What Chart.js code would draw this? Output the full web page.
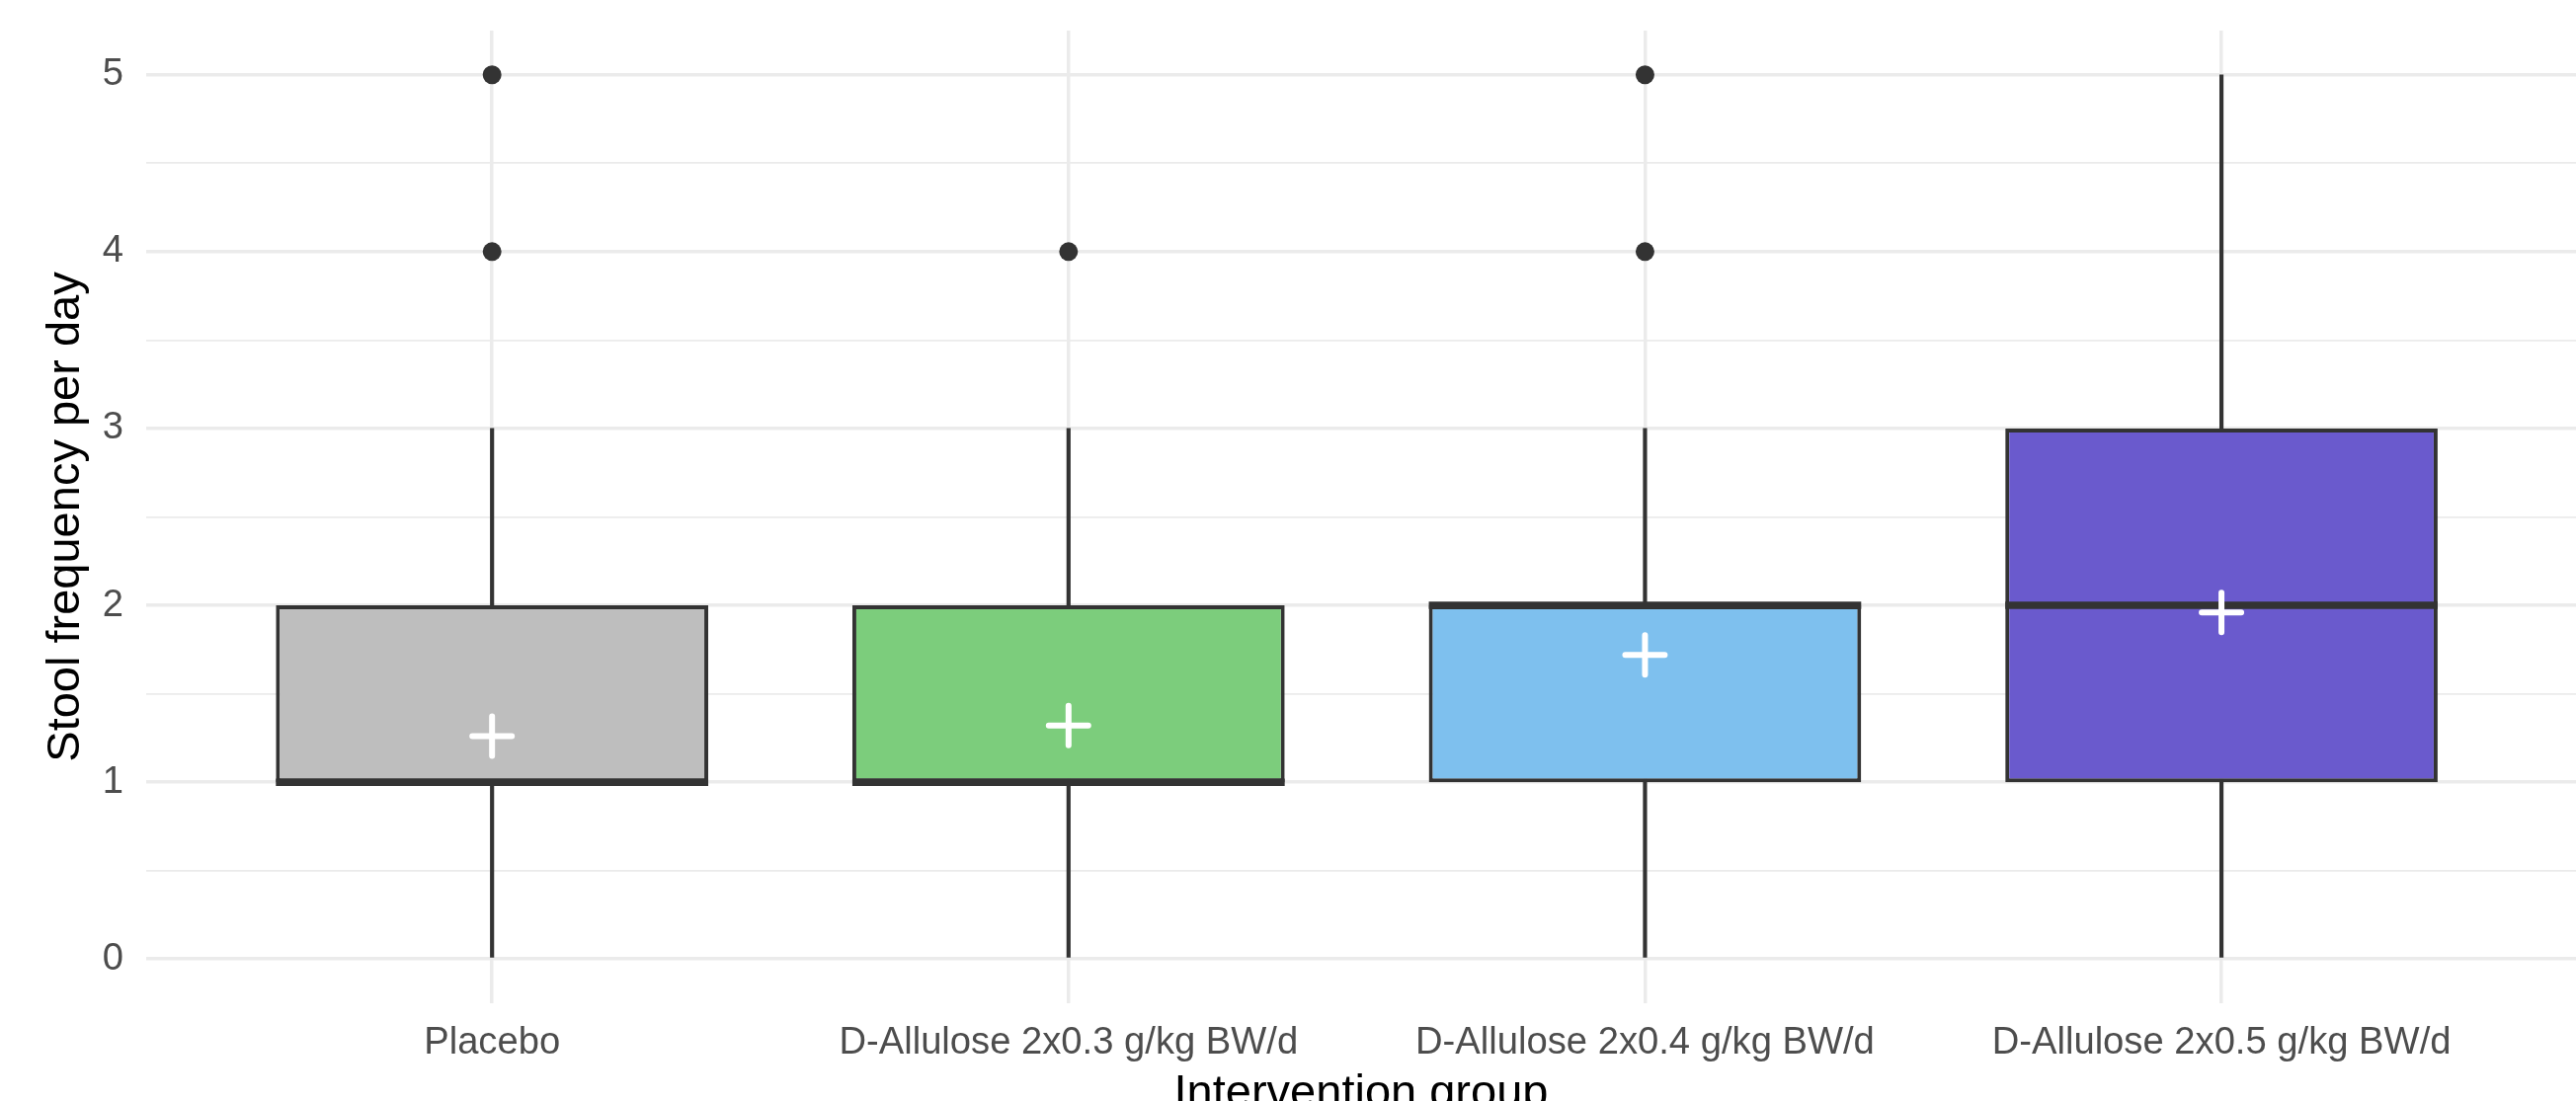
<!DOCTYPE html>
<html>
<head>
<meta charset="utf-8">
<title>Stool frequency per day</title>
<script src="https://cdn.jsdelivr.net/npm/chart.js@4.4.1/dist/chart.umd.min.js"></script>
<style>
  html, body { margin: 0; padding: 0; background: #ffffff; overflow: hidden; }
  #wrap { width: 2608px; height: 1140px; }
</style>
</head>
<body>
<div id="wrap"><canvas id="boxChart" width="2608" height="1140"></canvas></div>
<script>
// Groups on the x axis
const GROUPS = [
  "Placebo",
  "D-Allulose 2x0.3 g/kg BW/d",
  "D-Allulose 2x0.4 g/kg BW/d",
  "D-Allulose 2x0.5 g/kg BW/d",
];

// Box plot summary per group
const WHISKER_LOW = [0, 0, 0, 0];
const Q1 = [1, 1, 1, 1];
const MEDIAN = [1, 1, 2, 2];
const Q3 = [2, 2, 2, 3];
const WHISKER_HIGH = [3, 3, 3, 5];
const MEANS = [1.26, 1.32, 1.72, 1.96];
const OUTLIERS = [[4, 5], [4], [4, 5], []];

// y axis breaks
const Y_MAJOR = [0, 1, 2, 3, 4, 5];
const Y_MINOR = [0.5, 1.5, 2.5, 3.5, 4.5];

const FILLS = ["#bebebe", "#7ccd7c", "#7ec0ee", "#6a5acd"];
const INK = "#333333";
const GRID = "#ebebeb";

Chart.defaults.font.family = "'Liberation Sans', Arial, sans-serif";

// x positions are 1..n on a linear axis
const pos = (i) => i + 1;

const boxData = GROUPS.map((g, i) => ({ x: pos(i), y: [Q1[i], Q3[i]] }));
const lowData = GROUPS.map((g, i) => ({ x: pos(i), y: [WHISKER_LOW[i], Q1[i]] }));
const highData = GROUPS.map((g, i) => ({ x: pos(i), y: [Q3[i], WHISKER_HIGH[i]] }));
const meanData = GROUPS.map((g, i) => ({ x: pos(i), y: MEANS[i] }));
const outlierData = [];
OUTLIERS.forEach((vals, i) => {
  vals.forEach((v) => outlierData.push({ x: pos(i), y: v }));
});

// medians drawn right after the boxes, below the mean crosses
const medianPlugin = {
  id: "medianLines",
  beforeDatasetDraw(chart, args) {
    const ds = chart.data.datasets[args.index];
    if (ds.label === "means") chart.ctx.lineCap = "round";
  },
  afterDatasetDraw(chart, args) {
    const ds = chart.data.datasets[args.index];
    const ctx = chart.ctx;
    if (ds.label === "means") {
      ctx.lineCap = "butt";
      return;
    }
    if (ds.label !== "boxes") return;
    const yScale = chart.scales.y;
    ctx.save();
    ctx.strokeStyle = INK;
    ctx.lineWidth = 7.5;
    args.meta.data.forEach((bar, i) => {
      const y = yScale.getPixelForValue(MEDIAN[i]);
      ctx.beginPath();
      ctx.moveTo(bar.x - bar.width / 2, y);
      ctx.lineTo(bar.x + bar.width / 2, y);
      ctx.stroke();
    });
    ctx.restore();
  },
};

// keep label overflow from shrinking the plot area
function noPadding(scale) {
  scale.paddingLeft = 0;
  scale.paddingRight = 0;
  scale.paddingTop = 0;
  scale.paddingBottom = 0;
}

const ctx = document.getElementById("boxChart").getContext("2d");
new Chart(ctx, {
  type: "bar",
  data: {
    datasets: [
      {
        type: "scatter",
        label: "means",
        data: meanData,
        pointStyle: "cross",
        pointRadius: 20,
        pointBorderWidth: 6,
        pointBorderColor: "#ffffff",
        pointBackgroundColor: "#ffffff",
        order: 0,
      },
      {
        type: "scatter",
        label: "outliers",
        data: outlierData,
        pointStyle: "circle",
        pointRadius: 9.5,
        pointBorderWidth: 0,
        pointBackgroundColor: INK,
        order: 1,
      },
      {
        label: "boxes",
        data: boxData,
        backgroundColor: FILLS,
        borderColor: INK,
        borderWidth: 4,
        borderSkipped: false,
        grouped: false,
        barPercentage: 0.75,
        categoryPercentage: 1,
        order: 2,
      },
      {
        label: "lower whisker",
        data: lowData,
        backgroundColor: INK,
        borderWidth: 0,
        barThickness: 3.5,
        grouped: false,
        order: 3,
      },
      {
        label: "upper whisker",
        data: highData,
        backgroundColor: INK,
        borderWidth: 0,
        barThickness: 3.5,
        grouped: false,
        order: 3,
      },
    ],
  },
  options: {
    responsive: false,
    animation: false,
    devicePixelRatio: 1,
    events: [],
    layout: { autoPadding: false, padding: { top: 31, right: 0, bottom: 0, left: 0 } },
    plugins: {
      legend: { display: false },
      tooltip: { enabled: false },
    },
    scales: {
      x: {
        type: "linear",
        min: 0.4,
        max: 4.615,
        offset: false,
        border: { display: false },
        grid: { offset: false, color: GRID, lineWidth: 3.5, drawTicks: false },
        afterBuildTicks: (scale) => {
          scale.ticks = GROUPS.map((g, i) => ({ value: pos(i) }));
        },
        afterFit: (scale) => {
          scale.height = 124;
          noPadding(scale);
        },
        ticks: {
          autoSkip: false,
          maxRotation: 0,
          padding: 18,
          color: "#4d4d4d",
          font: { size: 38.2 },
          callback: (value) => GROUPS[value - 1],
        },
        title: {
          display: true,
          text: "Intervention group",
          color: "#000000",
          font: { size: 47 },
          padding: { top: 0, bottom: 4 },
        },
      },
      y: {
        type: "linear",
        min: -0.25,
        max: 5.25,
        border: { display: false },
        grid: {
          color: GRID,
          drawTicks: false,
          lineWidth: (c) => (Y_MAJOR.includes(c.tick.value) ? 3.5 : 1.8),
        },
        afterBuildTicks: (scale) => {
          scale.ticks = Y_MAJOR.concat(Y_MINOR)
            .sort((a, b) => a - b)
            .map((v) => ({ value: v }));
        },
        afterFit: (scale) => {
          scale.width = 148;
          noPadding(scale);
        },
        ticks: {
          padding: 23,
          color: "#4d4d4d",
          font: { size: 38.2 },
          callback: (value) => (Y_MAJOR.includes(value) ? String(value) : ""),
        },
        title: {
          display: true,
          text: "Stool frequency per day",
          color: "#000000",
          font: { size: 47 },
          padding: { top: 38.5, bottom: 0 },
        },
      },
    },
  },
  plugins: [medianPlugin],
});
</script>
</body>
</html>
